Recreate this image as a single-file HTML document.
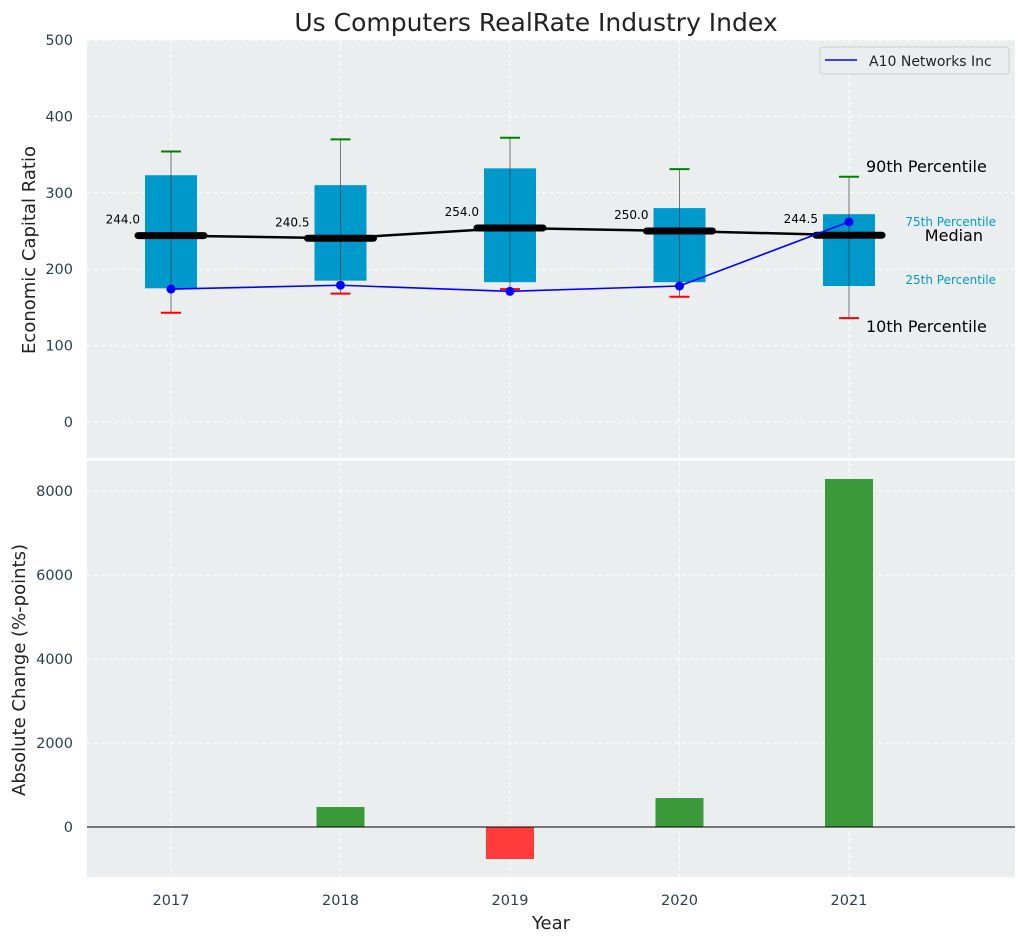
<!DOCTYPE html>
<html><head><meta charset="utf-8"><style>
body{margin:0;background:#fff;font-family:"Liberation Sans","DejaVu Sans",sans-serif}
svg text{font-family:"DejaVu Sans","Liberation Sans",sans-serif}
</style></head><body>
<svg id="c" width="1026" height="942" xmlns="http://www.w3.org/2000/svg"></svg>
<script>
const years=[2017,2018,2019,2020,2021];
const q1=[175,185,183,183,178];
const q3=[323,310,332,280,272];
const p90=[354,370,372,331,321];
const p10=[143,168,174,164,136];
const medians=[244.0,240.5,254.0,250.0,244.5];
const company=[174,179,171,178,262];
const changes=[0,476,-762,690,8286];
const topTicks=[0,100,200,300,400,500];
const botTicks=[0,2000,4000,6000,8000];

const NS="http://www.w3.org/2000/svg",svg=document.getElementById('c');
function el(t,a,p){const e=document.createElementNS(NS,t);for(const k in a)e.setAttribute(k,a[k]);(p||svg).appendChild(e);return e;}
function tx(s,a,p){const e=el('text',a,p);e.textContent=s;return e;}
const X=y=>171+(y-2017)*169.5;
const YT=v=>422-v*0.764;
const YB=v=>827-v*0.042;
const L=87,R=1015;

let g=el('rect',{x:L,y:40,width:R-L,height:418,fill:'#ebeeee'});

g=el('rect',{x:L,y:461,width:R-L,height:416,fill:'#ebeeee'});


topTicks.forEach(t=>{const y=YT(t);
 el('line',{x1:L,x2:R,y1:y,y2:y,stroke:'#fff','stroke-dasharray':'4,3'});
 const e=tx(t,{x:73,y:y+5,'text-anchor':'end','font-size':14.5,fill:'#2b3e50'});
 });
botTicks.forEach(t=>{const y=YB(t);
 el('line',{x1:L,x2:R,y1:y,y2:y,stroke:'#fff','stroke-dasharray':'4,3'});
 const e=tx(t,{x:73,y:y+5,'text-anchor':'end','font-size':14.5,fill:'#2b3e50'});
 });
years.forEach(yr=>{const x=X(yr);
 el('line',{x1:x,x2:x,y1:40,y2:458,stroke:'#fff','stroke-dasharray':'4,3'});
 el('line',{x1:x,x2:x,y1:461,y2:877,stroke:'#fff','stroke-dasharray':'4,3'});
 const e=tx(yr,{x:x,y:905,'text-anchor':'middle','font-size':14.5,fill:'#2b3e50'});
 });

years.forEach((yr,i)=>{const x=X(yr);
 const w=el('line',{x1:x,x2:x,y1:YT(p90[i]),y2:YT(p10[i]),stroke:'#777','stroke-width':1});
 
 const b=el('rect',{x:x-26,y:YT(q3[i]),width:52,height:YT(q1[i])-YT(q3[i]),fill:'#0099cc'});
 
 el('line',{x1:x,x2:x,y1:YT(q3[i]),y2:YT(q1[i]),stroke:'#2a5a70','stroke-width':1});
 const c1=el('line',{x1:x-10,x2:x+10,y1:YT(p90[i]),y2:YT(p90[i]),stroke:'green','stroke-width':2});
 
 const c2=el('line',{x1:x-10,x2:x+10,y1:YT(p10[i]),y2:YT(p10[i]),stroke:'red','stroke-width':2});
 
});
let pts=years.map((yr,i)=>X(yr)+','+YT(medians[i])).join(' ');
g=el('polyline',{points:pts,fill:'none',stroke:'#000','stroke-width':2.5});

years.forEach((yr,i)=>{const x=X(yr),y=YT(medians[i]);
 const m=el('line',{x1:x-33,x2:x+33,y1:y,y2:y,stroke:'#000','stroke-width':7,'stroke-linecap':'round'});
 
 const t=tx(medians[i].toFixed(1),{x:x-31,y:y-12,'text-anchor':'end','font-size':12,fill:'#000'});
 });
pts=years.map((yr,i)=>X(yr)+','+YT(company[i])).join(' ');
g=el('polyline',{points:pts,fill:'none',stroke:'blue','stroke-width':1.6});

years.forEach((yr,i)=>{const p=el('circle',{cx:X(yr),cy:YT(company[i]),r:4.5,fill:'blue'});
 });

[['90th Percentile',866,YT(p90[4])-5,16,'#000','start'],['10th Percentile',866,YT(p10[4])+14,16,'#000','start'],
 ['75th Percentile',996,YT(q3[4])+12,12,'#0099cc','end'],['25th Percentile',996,YT(q1[4])-2,12,'#0099cc','end'],
 ['Median',983,YT(medians[4])+6,16,'#000','end']].forEach(a=>{
 const t=tx(a[0],{x:a[1],y:a[2],'font-size':a[3],fill:a[4],'text-anchor':a[5]});
 });

const lg=el('g',{});
el('rect',{x:820,y:47,width:189,height:27,rx:3,fill:'#ebeeee',stroke:'#ccc'},lg);
el('line',{x1:825,x2:857,y1:60,y2:60,stroke:'blue','stroke-width':1.6},lg);
tx('A10 Networks Inc',{x:869,y:66,'font-size':14,fill:'#222'},lg);

years.forEach((yr,i)=>{const v=changes[i];if(v===0)return;
 const y0=YB(0),y1=YB(v);
 const b=el('rect',{x:X(yr)-24,y:Math.min(y0,y1),width:48,height:Math.abs(y1-y0),fill:v>=0?'#3a9a3a':'#ff3b3b'});
 });
g=el('line',{x1:L,x2:R,y1:YB(0),y2:YB(0),stroke:'#000','stroke-width':1});


g=tx('Us Computers RealRate Industry Index',{x:536,y:31,'text-anchor':'middle','font-size':25,fill:'#222'});

g=tx('Economic Capital Ratio',{x:0,y:0,transform:'translate(35,250) rotate(-90)','text-anchor':'middle','font-size':18,fill:'#222'});

g=tx('Absolute Change (%-points)',{x:0,y:0,transform:'translate(25,670) rotate(-90)','text-anchor':'middle','font-size':18,fill:'#222'});

g=tx('Year',{x:551,y:929,'text-anchor':'middle','font-size':18,fill:'#222'});

</script>
</body></html>
